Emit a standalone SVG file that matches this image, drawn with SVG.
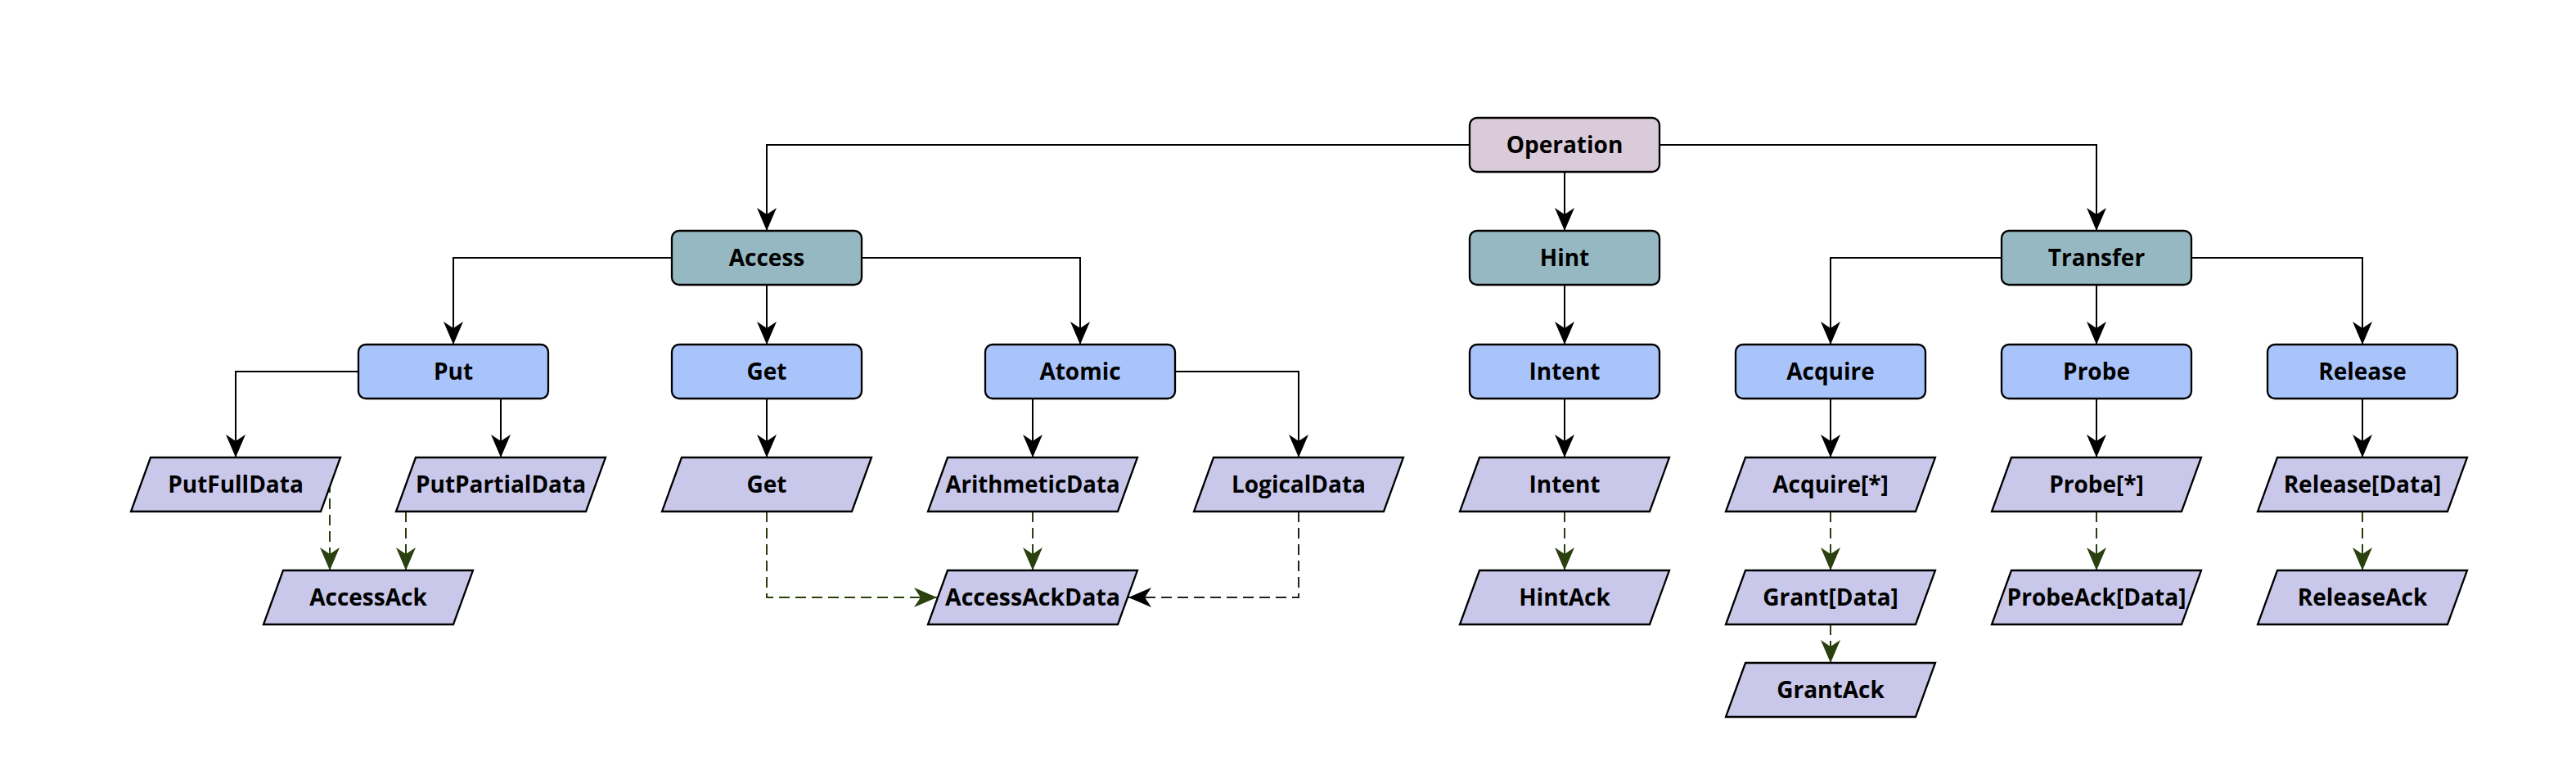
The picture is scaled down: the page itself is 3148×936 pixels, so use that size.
<svg xmlns="http://www.w3.org/2000/svg" width="3148" height="936" viewBox="0 0 3148 936">
<style>
.n rect, .n polygon { stroke: #000; stroke-width: 2.3; }
.root rect { fill: #dacbda; }
.cat rect { fill: #96b8c2; }
.sub rect { fill: #a9c4fa; }
.msg polygon { fill: #c9c8ea; }
.n text { font-family: "Open Sans", "Liberation Sans", sans-serif; font-weight: bold; font-size: 28px; text-anchor: middle; fill: #000; }
.s { fill: none; stroke: #000; stroke-width: 2; marker-end: url(#ab); }
.d { fill: none; stroke: #2a400f; stroke-width: 2; stroke-dasharray: 13 7; marker-end: url(#ag); }
.k { fill: none; stroke: #222; stroke-width: 2; stroke-dasharray: 13 7; marker-end: url(#ab); }
</style>
<defs>
<marker id="ab" markerUnits="userSpaceOnUse" viewBox="0 0 28 24" markerWidth="28" markerHeight="24" refX="28" refY="12" orient="auto">
<path d="M0,0 L28,12 L0,24 L8,12 Z" fill="#000"/>
</marker>
<marker id="ag" markerUnits="userSpaceOnUse" viewBox="0 0 28 24" markerWidth="28" markerHeight="24" refX="28" refY="12" orient="auto">
<path d="M0,0 L28,12 L0,24 L8,12 Z" fill="#2a400f"/>
</marker>
</defs>
<rect width="3148" height="936" fill="#fff"/>
<g id="connectors">
<path class="s" d="M1796,177 H937 V282"/>
<path class="s" d="M1912,210 V282"/>
<path class="s" d="M2028,177 H2562 V282"/>
<path class="s" d="M821,315 H554 V421"/>
<path class="s" d="M937,348 V421"/>
<path class="s" d="M1053,315 H1320 V421"/>
<path class="s" d="M438,454 H288 V559"/>
<path class="s" d="M612,487 V559"/>
<path class="s" d="M937,487 V559"/>
<path class="s" d="M1262,487 V559"/>
<path class="s" d="M1436,454 H1587 V559"/>
<path class="s" d="M1912,348 V421"/>
<path class="s" d="M1912,487 V559"/>
<path class="s" d="M2446,315 H2237 V421"/>
<path class="s" d="M2562,348 V421"/>
<path class="s" d="M2678,315 H2887 V421"/>
<path class="s" d="M2237,487 V559"/>
<path class="s" d="M2562,487 V559"/>
<path class="s" d="M2887,487 V559"/>
<path class="d" d="M403,589 V697"/>
<path class="d" d="M496,625 V697"/>
<path class="d" d="M937,625 V730 H1145"/>
<path class="d" d="M1262,625 V697"/>
<path class="k" d="M1587,625 V730 H1379"/>
<path class="d" d="M1912,625 V697"/>
<path class="d" d="M2237,625 V697"/>
<path class="d" d="M2237,763 V810"/>
<path class="d" d="M2562,625 V697"/>
<path class="d" d="M2887,625 V697"/>
</g>
<g id="operation" class="n root"><rect x="1796" y="144" width="232" height="66" rx="9"/><text x="1912" y="187">Operation</text></g>
<g id="access" class="n cat"><rect x="821" y="282" width="232" height="66" rx="9"/><text x="937" y="325">Access</text></g>
<g id="hint" class="n cat"><rect x="1796" y="282" width="232" height="66" rx="9"/><text x="1912" y="325">Hint</text></g>
<g id="transfer" class="n cat"><rect x="2446" y="282" width="232" height="66" rx="9"/><text x="2562" y="325">Transfer</text></g>
<g id="put" class="n sub"><rect x="438" y="421" width="232" height="66" rx="9"/><text x="554" y="464">Put</text></g>
<g id="get" class="n sub"><rect x="821" y="421" width="232" height="66" rx="9"/><text x="937" y="464">Get</text></g>
<g id="atomic" class="n sub"><rect x="1204" y="421" width="232" height="66" rx="9"/><text x="1320" y="464">Atomic</text></g>
<g id="intent" class="n sub"><rect x="1796" y="421" width="232" height="66" rx="9"/><text x="1912" y="464">Intent</text></g>
<g id="acquire" class="n sub"><rect x="2121" y="421" width="232" height="66" rx="9"/><text x="2237" y="464">Acquire</text></g>
<g id="probe" class="n sub"><rect x="2446" y="421" width="232" height="66" rx="9"/><text x="2562" y="464">Probe</text></g>
<g id="release" class="n sub"><rect x="2771" y="421" width="232" height="66" rx="9"/><text x="2887" y="464">Release</text></g>
<g id="putfulldata" class="n msg"><polygon points="184,559 416,559 392,625 160,625"/><text x="288" y="602">PutFullData</text></g>
<g id="putpartialdata" class="n msg"><polygon points="508,559 740,559 716,625 484,625"/><text x="612" y="602">PutPartialData</text></g>
<g id="get-msg" class="n msg"><polygon points="833,559 1065,559 1041,625 809,625"/><text x="937" y="602">Get</text></g>
<g id="arithmeticdata" class="n msg"><polygon points="1158,559 1390,559 1366,625 1134,625"/><text x="1262" y="602" textLength="213" lengthAdjust="spacingAndGlyphs">ArithmeticData</text></g>
<g id="logicaldata" class="n msg"><polygon points="1483,559 1715,559 1691,625 1459,625"/><text x="1587" y="602">LogicalData</text></g>
<g id="intent-msg" class="n msg"><polygon points="1808,559 2040,559 2016,625 1784,625"/><text x="1912" y="602">Intent</text></g>
<g id="acquire-msg" class="n msg"><polygon points="2133,559 2365,559 2341,625 2109,625"/><text x="2237" y="602">Acquire[*]</text></g>
<g id="probe-msg" class="n msg"><polygon points="2458,559 2690,559 2666,625 2434,625"/><text x="2562" y="602">Probe[*]</text></g>
<g id="releasedata" class="n msg"><polygon points="2783,559 3015,559 2991,625 2759,625"/><text x="2887" y="602">Release[Data]</text></g>
<g id="accessack" class="n msg"><polygon points="346,697 578,697 554,763 322,763"/><text x="450" y="740">AccessAck</text></g>
<g id="accessackdata" class="n msg"><polygon points="1158,697 1390,697 1366,763 1134,763"/><text x="1262" y="740" textLength="214" lengthAdjust="spacingAndGlyphs">AccessAckData</text></g>
<g id="hintack" class="n msg"><polygon points="1808,697 2040,697 2016,763 1784,763"/><text x="1912" y="740">HintAck</text></g>
<g id="grantdata" class="n msg"><polygon points="2133,697 2365,697 2341,763 2109,763"/><text x="2237" y="740">Grant[Data]</text></g>
<g id="probeackdata" class="n msg"><polygon points="2458,697 2690,697 2666,763 2434,763"/><text x="2562" y="740" textLength="219" lengthAdjust="spacingAndGlyphs">ProbeAck[Data]</text></g>
<g id="releaseack" class="n msg"><polygon points="2783,697 3015,697 2991,763 2759,763"/><text x="2887" y="740">ReleaseAck</text></g>
<g id="grantack" class="n msg"><polygon points="2133,810 2365,810 2341,876 2109,876"/><text x="2237" y="853">GrantAck</text></g>
</svg>
